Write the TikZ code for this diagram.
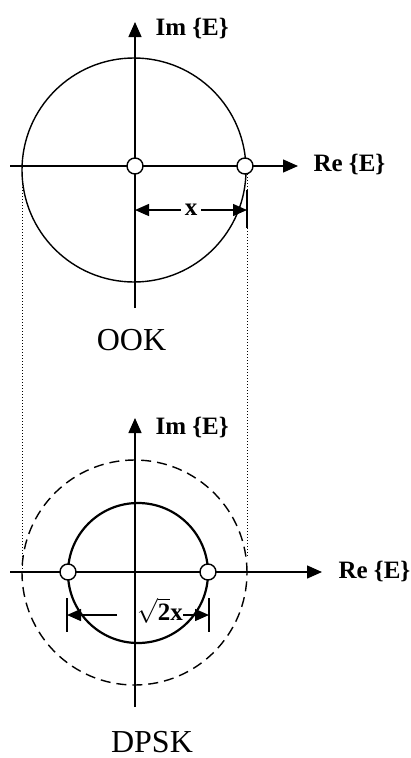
\documentclass[tikz,border=0pt]{standalone}
\usepackage{fontspec}
\setmainfont{Liberation Serif}
\usetikzlibrary{arrows.meta,positioning}
\tikzset{
  axis/.style={line width=1.4pt,-{Triangle[length=15pt,width=13pt]}},
  dimarrow/.style={line width=1.4pt,-{Triangle[length=14pt,width=12pt]}},
  dimtick/.style={line width=2pt},
  guide/.style={line width=1pt,dotted},
  sym/.style={circle,draw,fill=white,line width=1.4pt,minimum size=16pt,inner sep=0pt},
  axlabel/.style={font=\fontsize{25}{30}\selectfont\bfseries},
  modlabel/.style={font=\fontsize{32}{38}\selectfont,inner sep=0pt}
}

\begin{document}
\begin{tikzpicture}[x=1pt,y=-1pt]
  \useasboundingbox (0,0) rectangle (411,758);
  % OOK constellation
  \coordinate (ookL) at (10,166);
  \coordinate (ookR) at (298,166);
  \coordinate (ookB) at (135,308);
  \coordinate (ookT) at (135,22);
  \draw[line width=1.4pt] (134,170) circle (112pt);
  \draw[axis] (ookL) -- (ookR);
  \draw[axis] (ookB) -- (ookT);
  \node[axlabel,anchor=base west] (ookIm) at (152,35) {Im \{E\}};
  \node[axlabel,anchor=base west] (ookRe) at (310,171) {Re \{E\}};
  % dimension x
  \coordinate (d1) at (135,210);
  \coordinate (d2) at (247,210);
  \node[axlabel,fill=white,inner sep=4pt] (xlab) at (191,210) {x};
  \draw[dimarrow] (xlab.west) -- (d1);
  \draw[dimarrow] (xlab.east) -- (d2);
  \coordinate (t1) at (247,190);
  \coordinate (t2) at (247,228);
  \draw[dimtick] (t1) -- (t2);
  % guide lines down to DPSK
  \coordinate (gL1) at (22,178);
  \coordinate (gL2) at (22,573);
  \coordinate (gR1) at (247,174);
  \coordinate (gR2) at (247,557);
  \draw[guide] (gL1) -- (gL2);
  \draw[guide] (gR1) -- (gR2);
  % OOK symbols
  \node[sym] (s0) at (135,166) {};
  \node[sym] (s1) at (245,166) {};
  \node[modlabel,anchor=base] (ook) at (131.5,350) {OOK};
  % DPSK constellation
  \coordinate (dpL) at (10,572);
  \coordinate (dpR) at (322,572);
  \coordinate (dpB) at (135,707);
  \coordinate (dpT) at (135,418);
  \draw[line width=1.4pt,dash pattern=on 10pt off 6pt] (134.5,572.5) circle (112.5pt);
  \draw[line width=2.2pt] (138,573) circle (70pt);
  \draw[axis] (dpL) -- (dpR);
  \draw[axis] (dpB) -- (dpT);
  \node[axlabel,anchor=base west] (dpIm) at (152,434) {Im \{E\}};
  \node[axlabel,anchor=base west] (dpRe) at (335,578) {Re \{E\}};
  % dimension sqrt(2)x
  \coordinate (e1) at (67,615);
  \coordinate (e2) at (209,615);
  \coordinate (e1s) at (117,615);
  \coordinate (e2s) at (183,615);
  \node[axlabel,anchor=base] (rlab) at (160,620) {$\sqrt{\hbox{\fontsize{25}{30}\selectfont\bfseries 2}}$x};
  \draw[dimarrow] (e1s) -- (e1);
  \draw[dimarrow] (e2s) -- (e2);
  \coordinate (u1) at (67,598);
  \coordinate (u2) at (67,632);
  \coordinate (v1) at (209,598);
  \coordinate (v2) at (209,632);
  \draw[dimtick] (u1) -- (u2);
  \draw[dimtick] (v1) -- (v2);
  % DPSK symbols
  \node[sym] (p0) at (68,572) {};
  \node[sym] (p1) at (208,572) {};
  \node[modlabel,anchor=base] (dpsk) at (152,752) {DPSK};
\end{tikzpicture}
\end{document}
